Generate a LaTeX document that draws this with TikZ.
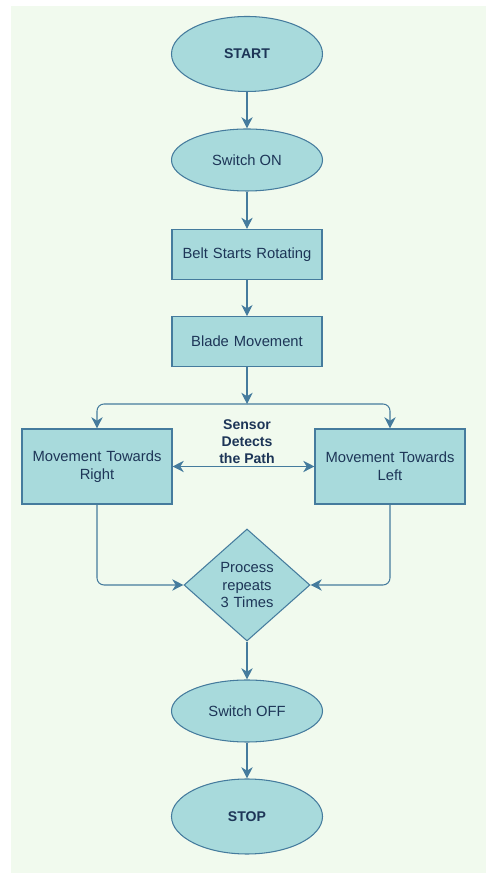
\documentclass[tikz,border=0pt]{standalone}
\usepackage{fontspec}
\setmainfont{Liberation Sans}
\usetikzlibrary{shapes,arrows.meta}
\definecolor{fond}{HTML}{F1FAEE}
\definecolor{remp}{HTML}{A8DADC}
\definecolor{trait}{HTML}{457B9D}
\definecolor{texte}{HTML}{1D3557}

\begin{document}
\begin{tikzpicture}[font=\fontsize{10.5}{12.8}\selectfont]
	\useasboundingbox (0,0) rectangle (12.25,21.825);
	\fill[fond] (0.275,0) rectangle (12.15,21.675);

	\tikzstyle{debutfin}=[ellipse,draw=trait,fill=remp,text=texte,line 
	width=0.75pt,inner sep=0pt,minimum width=3.775cm]
	\tikzstyle{instruct}=[rectangle,draw=trait,fill=remp,text=texte,line 
	width=0.75pt,inner sep=0.125cm,text width=3.5cm,text centered]
	\tikzstyle{test}=[diamond,draw=trait,fill=remp,text=texte,line 
	width=0.75pt,inner sep=0pt,minimum width=3.15cm,minimum height=2.8cm,
	text width=1.6cm,text centered]

	\node[debutfin,minimum height=1.875cm,font=\bfseries] (start) at (6.175,20.475) {START};
	\node[debutfin,minimum height=1.55cm] (a1) at (6.175,17.825) {Switch ON};
	\node[instruct,minimum height=1.25cm] (a2) at (6.175,15.4625) {Belt Starts Rotating};
	\node[instruct,minimum height=1.25cm] (a3) at (6.175,13.2825) {Blade Movement};
	\node[instruct,minimum height=1.875cm] (a4) at (2.425,10.1625) {Movement Towards\\ Right};
	\node[instruct,minimum height=1.875cm] (a5) at (9.75,10.1625) {Movement Towards\\ Left};
	\node[text=texte,font=\bfseries,align=center] (sensor) at (6.175,10.775) {Sensor\\ Detects\\ the Path};
	\node[test] (test) at (6.175,7.2) {Process\\ repeats\\ 3 Times};
	\node[debutfin,minimum height=1.55cm] (a6) at (6.175,4.05) {Switch OFF};
	\node[debutfin,minimum height=1.875cm,font=\bfseries] (stop) at (6.175,1.4125) {STOP};
	\coordinate (split) at (6.175,11.725);

	\tikzstyle{suite}=[->,>={Stealth[length=8pt,width=8pt,inset=2.5pt]},draw=trait,
	line width=0.75pt,rounded corners=5pt]

	\draw[suite] (start) -- (a1);
	\draw[suite] (a1) -- (a2);
	\draw[suite] (a2) -- (a3);
	\draw[suite] (a3) -- (split);
	\draw[suite] (split) -| (a4);
	\draw[suite] (split) -| (a5);
	\draw[suite,<->] (a4) -- (a5);
	\draw[suite] (a4) |- (test);
	\draw[suite] (a5) |- (test);
	\draw[suite] (test) -- (a6);
	\draw[suite] (a6) -- (stop);
\end{tikzpicture}
\end{document}
